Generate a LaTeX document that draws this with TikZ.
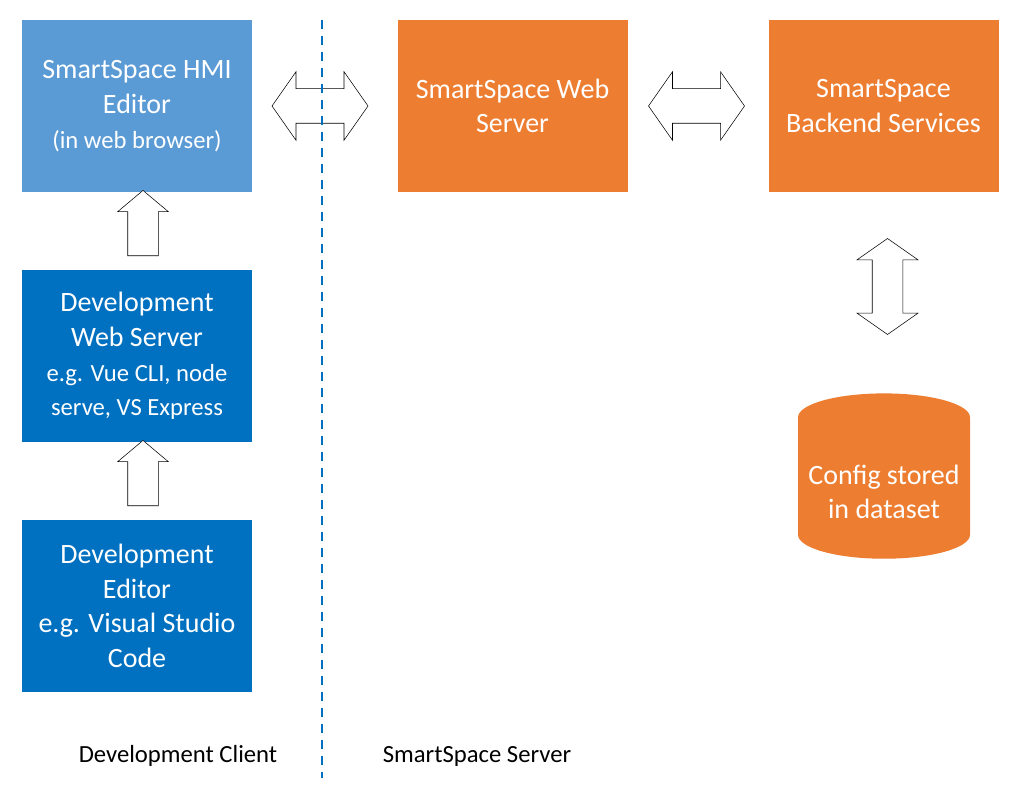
\documentclass[tikz,border=0pt]{standalone}
\usepackage{fontspec}
\setmainfont{Carlito}
\usetikzlibrary{shapes.geometric,shapes.arrows,positioning}
\definecolor{lblue}{HTML}{5B9BD5}
\definecolor{dblue}{HTML}{0070C0}
\definecolor{orng}{HTML}{ED7D31}
\newcommand{\smalltxt}[1]{{\fontsize{18.5}{25}\selectfont #1}}
\begin{document}
\begin{tikzpicture}[x=0.75pt,y=-0.75pt,
    every node/.style={font=\fontsize{21}{26}\selectfont},
    box/.style={rectangle,minimum width=172.5pt,minimum height=129.5pt,text=white,align=center,inner sep=2pt},
    uparrow/.style={single arrow,draw,fill=white,rotate=90,minimum height=49pt,single arrow head extend=7.5pt,single arrow tip angle=100,inner sep=0pt},
    dblarrow/.style={double arrow,draw,fill=white,minimum height=72pt,double arrow head extend=12.75pt,double arrow tip angle=110,inner sep=0pt}
]
\useasboundingbox (0,0) rectangle (1023,791);

% Development client side
\node[box,fill=lblue] (hmi) at (137,106) {SmartSpace HMI\\Editor\\\smalltxt{(in web browser)}};
\node[box,fill=dblue] (devweb) at (137,356) {Development\\Web Server\\\smalltxt{e.g. Vue CLI, node}\\\smalltxt{serve, VS Express}};
\node[box,fill=dblue] (deved) at (137,606) {Development\\Editor\\e.g. Visual Studio\\Code};

% Server side
\node[box,fill=orng] (websrv) at (512.5,106) {SmartSpace Web\\Server};
\node[box,fill=orng] (backend) at (883.5,106) {SmartSpace\\Backend Services};
\node[cylinder,shape border rotate=90,aspect=0.3,fill=orng,minimum width=129pt,minimum height=124pt,text=white,align=center] (config) at (884,492) {Config stored\\in dataset};

% Block arrows
\node[uparrow] (up1) at (143,229.5) {\rule{0pt}{22.5pt}};
\node[uparrow] (up2) at (143,479.5) {\rule{0pt}{22.5pt}};
\node[dblarrow] (lr1) at (320,106) {\rule{0pt}{25.5pt}};
\node[dblarrow] (lr2) at (696.5,106) {\rule{0pt}{25.5pt}};
\node[dblarrow,rotate=90,double arrow head extend=11.5pt] (ud) at (887.5,286.5) {\rule{0pt}{22.5pt}};

% Divider
\coordinate (dtop) at (322,20);
\coordinate (dbot) at (322,778);
\draw[dblue,thick,dash pattern=on 7pt off 5pt] (dtop) -- (dbot);

% Labels
\node[font=\fontsize{18.5}{22}\selectfont] (client) at (178,756) {Development Client};
\node[font=\fontsize{18.5}{22}\selectfont] (server) at (477,756) {SmartSpace Server};
\end{tikzpicture}
\end{document}
